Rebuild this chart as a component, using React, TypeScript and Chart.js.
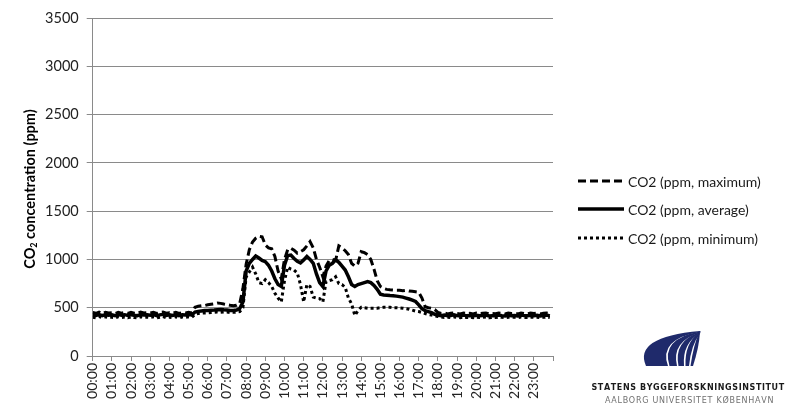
import { useEffect, useRef } from 'react';
import { Chart, registerables } from 'chart.js';

Chart.register(...registerables);

const FONT = 'Lato, "Open Sans", "DejaVu Sans", sans-serif';

const HOUR_LABELS = [
  '00:00', '01:00', '02:00', '03:00', '04:00', '05:00', '06:00', '07:00',
  '08:00', '09:00', '10:00', '11:00', '12:00', '13:00', '14:00', '15:00',
  '16:00', '17:00', '18:00', '19:00', '20:00', '21:00', '22:00', '23:00',
];

// 10-minute readings, 6 per hour, 00:00 .. 23:50
const CO2_MAX = [
  450, 442, 455, 440, 452, 445,
  448, 440, 453, 444, 450, 440,
  452, 444, 440, 455, 445, 448,
  445, 452, 440, 448, 455, 443,
  448, 442, 452, 440, 450, 446,
  452, 445, 505, 515, 520, 522,
  530, 535, 540, 548, 545, 538,
  532, 525, 520, 525, 545, 700,
  950, 1100, 1180, 1220, 1240, 1235,
  1150, 1120, 1110, 1030, 880, 800,
  1000, 1100, 1115, 1095, 1065, 1080,
  1100, 1140, 1185, 1120, 1000, 920,
  820, 930, 990, 1000, 990, 1140,
  1120, 1090, 1050, 960, 930, 960,
  1080, 1070, 1050, 1000, 900, 780,
  720, 700, 690, 685, 682, 680,
  680, 676, 680, 672, 670, 665,
  660, 600, 510, 500, 495, 480,
  452, 440, 446, 436, 442, 446,
  440, 435, 445, 438, 442, 436,
  444, 438, 442, 446, 436, 440,
  438, 446, 440, 435, 444, 440,
  442, 436, 446, 440, 438, 445,
  440, 444, 436, 442, 446, 438,
];

const CO2_AVG = [
  425, 420, 430, 418, 428, 422,
  426, 418, 430, 422, 428, 420,
  428, 422, 418, 430, 424, 426,
  422, 430, 418, 426, 432, 420,
  426, 420, 430, 418, 428, 424,
  430, 425, 455, 462, 466, 470,
  472, 475, 476, 480, 482, 478,
  476, 472, 472, 476, 492, 560,
  880, 960, 1000, 1035, 1015, 990,
  977, 940, 880, 800, 740, 720,
  940, 1040, 1045, 1010, 980, 965,
  995, 1030, 1000, 960, 850, 760,
  720, 880, 940, 960, 995, 970,
  930, 890, 820, 740, 720, 740,
  750, 760, 770, 760, 730, 690,
  640, 632, 630, 626, 624, 620,
  615, 610, 600, 590, 578, 565,
  530, 490, 470, 460, 450, 432,
  425, 418, 424, 416, 420, 426,
  418, 414, 424, 416, 420, 414,
  422, 416, 420, 424, 414, 418,
  416, 424, 418, 414, 422, 418,
  420, 414, 424, 418, 416, 422,
  418, 422, 414, 420, 424, 416,
];

const CO2_MIN = [
  400, 395, 408, 398, 405, 400,
  402, 396, 406, 398, 404, 396,
  405, 398, 394, 406, 400, 402,
  398, 405, 395, 402, 408, 396,
  402, 396, 406, 394, 404, 400,
  405, 400, 430, 440, 444, 446,
  446, 450, 452, 455, 452, 455,
  455, 450, 452, 455, 460, 500,
  820, 870, 920, 850, 760, 750,
  790, 760, 720, 650, 600, 560,
  780, 920, 900, 890, 860, 740,
  560, 740, 720, 610, 600, 595,
  560, 770, 780, 790, 820, 750,
  740, 710, 600, 540, 420, 470,
  505, 500, 495, 495, 495, 495,
  500, 505, 505, 505, 500, 500,
  498, 495, 490, 485, 475, 465,
  460, 450, 440, 430, 425, 415,
  410, 405, 400, 402, 398, 404,
  400, 396, 404, 398, 402, 396,
  402, 398, 400, 404, 396, 400,
  398, 404, 400, 396, 402, 400,
  400, 396, 404, 400, 398, 402,
  400, 402, 396, 400, 404, 398,
];

const SERIES_NAMES = ['CO2 (ppm, maximum)', 'CO2 (ppm, average)', 'CO2 (ppm, minimum)'];
const Y_TITLE_PARTS = ['CO', '2', ' concentration (ppm)'];
const LOGO_TEXT = ['STATENS BYGGEFORSKNINGSINSTITUT', 'AALBORG UNIVERSITET KØBENHAVN'];
const READINGS_PER_HOUR = 6;

const toPoints = (arr: number[]) => arr.map((v, i) => ({ x: i / READINGS_PER_HOUR, y: v }));

const decorPlugin = {
  id: 'decor',
  afterDraw(chart: any) {
    const ctx = chart.ctx as CanvasRenderingContext2D;
    // Y axis title with subscript
    ctx.save();
    ctx.translate(30, 189);
    ctx.rotate(-Math.PI / 2);
    ctx.fillStyle = '#000';
    ctx.textBaseline = 'middle';
    const big = `bold 14.5px ${FONT}`;
    const small = `bold 9px ${FONT}`;
    ctx.font = big;
    const w0 = ctx.measureText(Y_TITLE_PARTS[0]).width;
    const w2 = ctx.measureText(Y_TITLE_PARTS[2]).width;
    ctx.font = small;
    const w1 = ctx.measureText(Y_TITLE_PARTS[1]).width;
    let x = -(w0 + w1 + w2) / 2;
    ctx.font = big;
    ctx.fillText(Y_TITLE_PARTS[0], x, 0);
    x += w0;
    ctx.font = small;
    ctx.fillText(Y_TITLE_PARTS[1], x, 4);
    x += w1;
    ctx.font = big;
    ctx.fillText(Y_TITLE_PARTS[2], x, 0);
    ctx.restore();

    // Legend
    const ys = [181, 209, 238];
    chart.data.datasets.forEach((ds: any, i: number) => {
      ctx.save();
      ctx.strokeStyle = ds.borderColor;
      ctx.lineWidth = ds.borderWidth;
      ctx.setLineDash(ds.borderDash || []);
      ctx.beginPath();
      ctx.moveTo(578, ys[i]);
      ctx.lineTo(624, ys[i]);
      ctx.stroke();
      ctx.setLineDash([]);
      ctx.fillStyle = '#1a1a1a';
      ctx.font = `14px ${FONT}`;
      ctx.textBaseline = 'middle';
      ctx.fillText(SERIES_NAMES[i], 628, ys[i] + 1);
      ctx.restore();
    });

    // Logo mark: wave stripes converging at top right
    ctx.save();
    ctx.fillStyle = '#1f2a6b';
    const stripes = [[646, 668], [669.5, 677], [678.5, 684], [685.5, 689], [690.5, 693]];
    stripes.forEach(([xl, xr], k) => {
      const tx = 700 - k * 0.3;
      const ty = 331 + k * 0.6;
      ctx.beginPath();
      ctx.moveTo(tx, ty);
      ctx.quadraticCurveTo(xl - 13 + k * 4, 337 + k * 2, xl, 366);
      ctx.lineTo(xr, 366);
      ctx.quadraticCurveTo(xr - 10 + k * 4, 339 + k * 2, tx + 1, ty + 0.8);
      ctx.closePath();
      ctx.fill();
    });
    ctx.restore();

    // Logo text
    const drawSpaced = (text: string, font: string, color: string, cx: number, cy: number, width: number) => {
      ctx.save();
      ctx.font = font;
      ctx.fillStyle = color;
      ctx.textBaseline = 'middle';
      const m = ctx.measureText(text).width;
      const sp = (width - m) / (text.length - 1);
      let xx = cx - width / 2;
      for (const ch of text) {
        ctx.fillText(ch, xx, cy);
        xx += ctx.measureText(ch).width + sp;
      }
      ctx.restore();
    };
    drawSpaced(LOGO_TEXT[0], `bold 8px "DejaVu Sans", sans-serif`, '#1a1a1a', 687, 388, 191);
    drawSpaced(LOGO_TEXT[1], `8px "DejaVu Sans", sans-serif`, '#707070', 689, 401, 168);
  },
};

export default function App() {
  const ref = useRef<HTMLCanvasElement | null>(null);

  useEffect(() => {
    if (!ref.current) return;
    const grid = '#8a8a8a';
    const chart = new Chart(ref.current, {
      type: 'line',
      data: {
        datasets: [
          {
            label: SERIES_NAMES[0],
            data: toPoints(CO2_MAX),
            borderColor: '#000',
            borderWidth: 3,
            borderDash: [8, 4],
            pointRadius: 0,
            tension: 0,
          },
          {
            label: SERIES_NAMES[1],
            data: toPoints(CO2_AVG),
            borderColor: '#000',
            borderWidth: 3.5,
            pointRadius: 0,
            tension: 0,
          },
          {
            label: SERIES_NAMES[2],
            data: toPoints(CO2_MIN),
            borderColor: '#000',
            borderWidth: 3,
            borderDash: [3, 3],
            pointRadius: 0,
            tension: 0,
          },
        ],
      },
      options: {
        responsive: false,
        animation: false,
        layout: { padding: { top: 18, right: 239, bottom: 0, left: 0 } },
        plugins: { legend: { display: false }, tooltip: { enabled: false } },
        scales: {
          x: {
            type: 'linear',
            min: 0,
            max: 24,
            afterFit: (s: any) => { s.height = 60; },
            ticks: {
              stepSize: 1,
              autoSkip: false,
              maxRotation: 90,
              minRotation: 90,
              padding: 2,
              color: '#222',
              font: { family: FONT, size: 14 },
              callback: (v: any) => HOUR_LABELS[v] ?? '',
            },
            grid: { drawOnChartArea: false, drawTicks: true, tickLength: 5, color: grid },
            border: { color: grid },
          },
          y: {
            min: 0,
            max: 3500,
            afterFit: (s: any) => { s.width = 92.7; },
            ticks: {
              stepSize: 500,
              padding: 8,
              color: '#222',
              font: { family: FONT, size: 14.5 },
              callback: (v: any) => String(v),
            },
            grid: { color: grid, tickLength: 6 },
            border: { color: grid },
          },
        },
      },
      plugins: [decorPlugin],
    });
    return () => chart.destroy();
  }, []);

  return (
    <div style={{ position: 'absolute', left: 0, top: 0, width: 792, height: 416, background: '#fff' }}>
      <canvas ref={ref} width={792} height={416} style={{ display: 'block' }} />
    </div>
  );
}
